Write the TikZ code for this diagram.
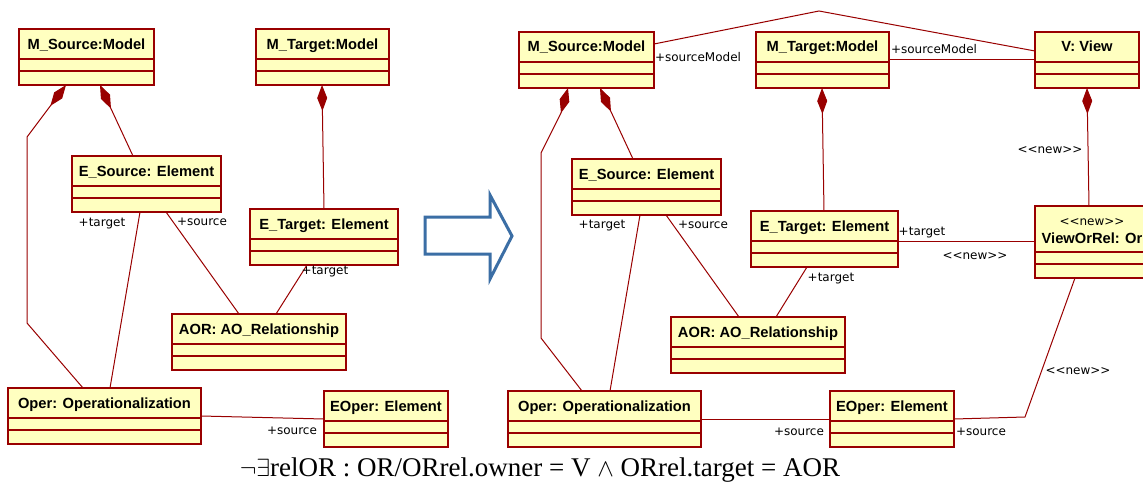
\documentclass[tikz,border=0pt]{standalone}
\usepackage{fontspec}
\setmainfont{Liberation Sans}
\newfontfamily\rolefont{DejaVu Sans}
\newfontfamily\formulafont{Liberation Serif}
\usetikzlibrary{arrows.meta}
\definecolor{umlred}{HTML}{990000}
\definecolor{umlfill}{HTML}{FFFFC0}
\definecolor{arrowblue}{HTML}{3B6EA5}
\tikzset{%
    umlbox/.style={%
        draw=umlred, fill=umlfill, line width=1.3pt, anchor=north west,
        minimum height=56pt, inner sep=0pt, outer sep=0pt,
        text height=20pt, text depth=36pt,
        font=\fontsize{14.7}{16}\selectfont\bfseries
    },
    umlline/.style={draw=umlred, line width=1.3pt},
    assoc/.style={draw=umlred, line width=1pt},
    owns/.style={assoc, arrows={Diamond[length=26pt,width=10pt]-}},
    rolename/.style={inner sep=0pt, font=\rolefont\fontsize{12}{14}\selectfont}
}

\begin{document}
\begin{tikzpicture}[x=1pt,y=-1pt]
    \useasboundingbox[fill=white] (0,0) rectangle (1143,487);

    % before
    \node[umlbox, minimum width=135] (msL) at (19,29) {M\_Source:Model};
    \node[umlbox, minimum width=133] (mtL) at (256,29) {M\_Target:Model};
    \node[umlbox, minimum width=149] (esL) at (72,156) {E\_Source: Element};
    \node[umlbox, minimum width=148] (etL) at (250,209) {E\_Target: Element};
    \node[umlbox, minimum width=174] (aorL) at (172,314) {AOR: AO\_Relationship};
    \node[umlbox, minimum width=193] (operL) at (8,388) {Oper: Operationalization};
    \node[umlbox, minimum width=124] (eoperL) at (324,391) {EOper: Element};

    % after
    \node[umlbox, minimum width=135] (msR) at (519,32) {M\_Source:Model};
    \node[umlbox, minimum width=133] (mtR) at (756,32) {M\_Target:Model};
    \node[umlbox, minimum width=104] (vR) at (1035,32) {V: View};
    \node[umlbox, minimum width=149] (esR) at (572,159) {E\_Source: Element};
    \node[umlbox, minimum width=147] (etR) at (751,211) {E\_Target: Element};
    \node[umlbox, minimum width=114, minimum height=72,
          text height=37pt, text depth=35pt] (vorR) at (1035,206) {ViewOrRel: Or};
    \node[rolename] (vorSt) at ([yshift=-16pt]vorR.north) {<<new>>};
    \node[umlbox, minimum width=174] (aorR) at (671,317) {AOR: AO\_Relationship};
    \node[umlbox, minimum width=193] (operR) at (508,391) {Oper: Operationalization};
    \node[umlbox, minimum width=124] (eoperR) at (830,391) {EOper: Element};

    \foreach \b in {msL,mtL,esL,etL,aorL,operL,eoperL,msR,mtR,vR,esR,etR,aorR,operR,eoperR}{
        \draw[umlline] ([yshift=-30pt]\b.north west) -- ([yshift=-30pt]\b.north east)
                       ([yshift=-42pt]\b.north west) -- ([yshift=-42pt]\b.north east);
    }
    \draw[umlline] ([yshift=-46pt]vorR.north west) -- ([yshift=-46pt]vorR.north east)
                   ([yshift=-58pt]vorR.north west) -- ([yshift=-58pt]vorR.north east);

    % links, left
    \draw[owns] ([xshift=47pt]msL.south west) -- (27,137) -- (27,323) -- ([xshift=75pt]operL.north west);
    \draw[owns] ([xshift=81pt]msL.south west) -- ([xshift=61pt]esL.north west);
    \draw[assoc] ([xshift=68pt]esL.south west) -- ([xshift=102pt]operL.north west);
    \draw[assoc] ([xshift=94pt]esL.south west) -- ([xshift=67pt]aorL.north west);
    \draw[owns] ([xshift=66pt]mtL.south west) -- ([xshift=74pt]etL.north west);
    \draw[assoc] ([xshift=57pt]etL.south west) -- ([xshift=104pt]aorL.north west);
    \draw[assoc] (operL.east) -- (eoperL.west);
    \node[rolename] (tgtA) at (102,224) {+target};
    \node[rolename] (srcA) at (202,222) {+source};
    \node[rolename] (tgtB) at (325,272) {+target};
    \node[rolename] (srcB) at (292,431) {+source};

    % transformation
    \draw[arrowblue, line width=3pt, line join=miter]
        (425,217) -- (490,217) -- (490,195) -- (512,236) -- (490,279) -- (490,254) -- (425,254) -- cycle;

    % links, right
    \draw[owns] ([xshift=49pt]msR.south west) -- (561,113) -- (541,153) -- (541,338) -- ([xshift=74pt]operR.north west);
    \draw[owns] ([xshift=81pt]msR.south west) -- ([xshift=61pt]esR.north west);
    \draw[assoc] ([xshift=68pt]esR.south west) -- ([xshift=102pt]operR.north west);
    \draw[assoc] ([xshift=94pt]esR.south west) -- ([xshift=68pt]aorR.north west);
    \draw[owns] ([xshift=66pt]mtR.south west) -- ([xshift=73pt]etR.north west);
    \draw[assoc] ([xshift=56pt]etR.south west) -- ([xshift=105pt]aorR.north west);
    \draw[assoc] (operR.east) -- (eoperR.west);
    \draw[assoc] ([yshift=-12pt]msR.north east) -- (819,11) -- ([yshift=-19pt]vR.north west);
    \draw[assoc] (mtR.east) -- (vR.west);
    \draw[owns] (vR.south) -- ([xshift=54pt]vorR.north west);
    \draw[assoc] ([yshift=-30pt]etR.north east) -- ([yshift=-35pt]vorR.north west);
    \draw[assoc] ([xshift=40pt]vorR.south west) -- (1025,417) -- (eoperR.east);
    \node[rolename] (tgtC) at (602,226) {+target};
    \node[rolename] (srcC) at (703,225) {+source};
    \node[rolename] (tgtD) at (831,279) {+target};
    \node[rolename] (srcD) at (799,432) {+source};
    \node[rolename] (srcE) at (981,432) {+source};
    \node[rolename] (smA) at (698,57) {+sourceModel};
    \node[rolename] (smB) at (934,49) {+sourceModel};
    \node[rolename] (tgtE) at (922,233) {+target};
    \node[rolename] (newA) at (1050,150) {<<new>>};
    \node[rolename] (newB) at (975,256) {<<new>>};
    \node[rolename] (newC) at (1078,371) {<<new>>};

    \node[font=\formulafont\fontsize{27}{32}\selectfont] (constraint) at (540,470)
        {$\neg\exists$relOR : OR/ORrel.owner = V $\wedge$ ORrel.target = AOR};
\end{tikzpicture}
\end{document}
